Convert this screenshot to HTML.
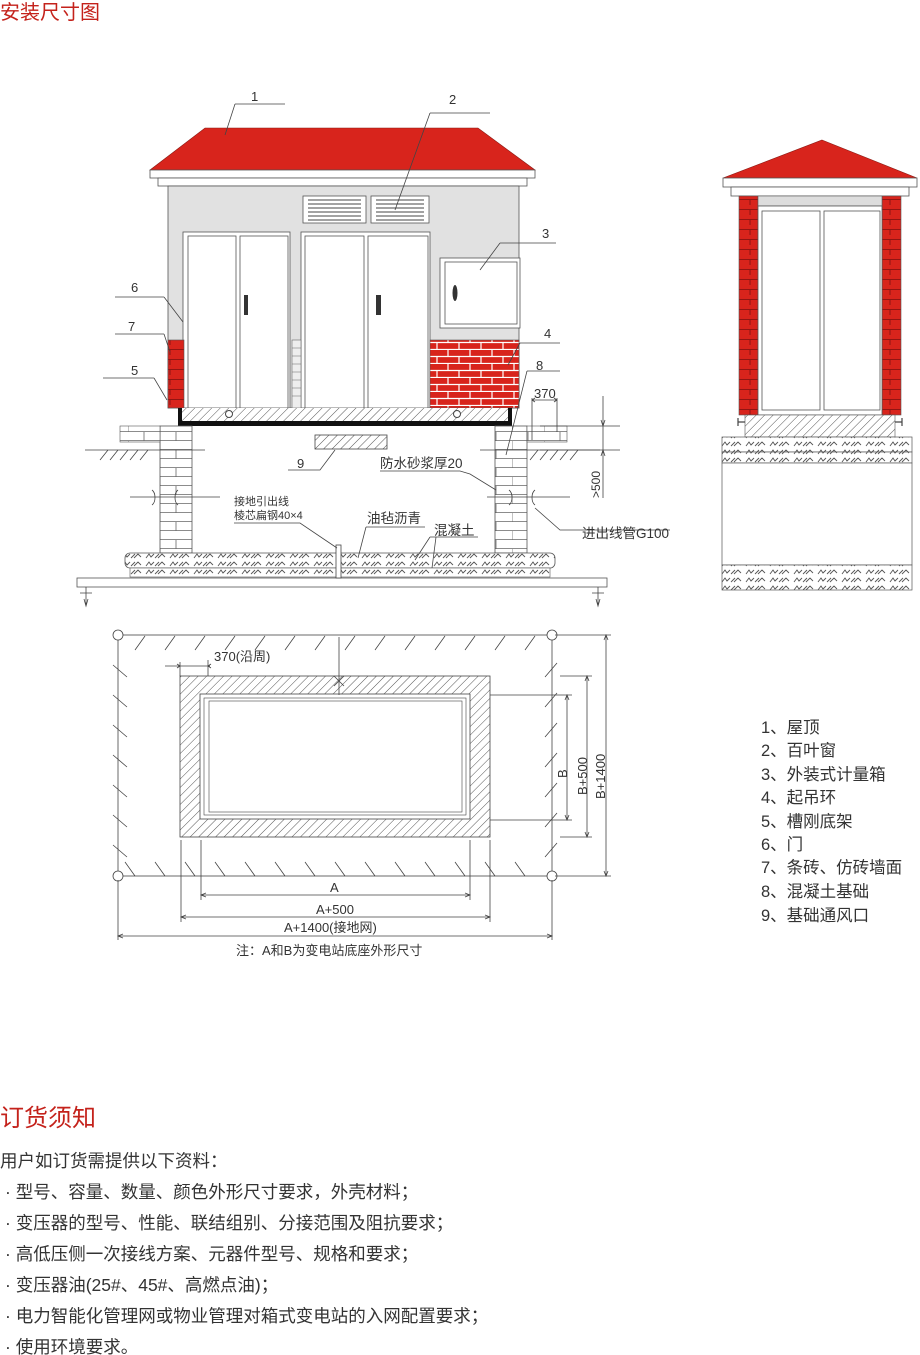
<!DOCTYPE html>
<html><head><meta charset="utf-8"><style>
html,body{margin:0;padding:0;background:#fff;width:920px;height:1355px;overflow:hidden}
svg{display:block}
text{font-family:"Liberation Sans","Noto Sans CJK SC",sans-serif;fill:#333}
</style></head><body>
<svg width="920" height="1355" viewBox="0 0 920 1355" xmlns="http://www.w3.org/2000/svg">
<defs>
<pattern id="hatch" width="6" height="6" patternUnits="userSpaceOnUse" patternTransform="rotate(45)">
<rect width="6" height="6" fill="#fff"/><line x1="0" y1="0" x2="0" y2="6" stroke="#555" stroke-width="1"/></pattern>
<pattern id="brick" width="22" height="14" patternUnits="userSpaceOnUse">
<rect width="22" height="14" fill="#d8241c"/>
<path d="M0 6.5H22M0 13.5H22M8 0V7M19 7V14" stroke="#fff" stroke-width="1.2"/></pattern>
<pattern id="brickS" width="20" height="10" patternUnits="userSpaceOnUse">
<rect width="20" height="10" fill="#d8241c"/>
<path d="M0 9.5H20M10 0V5" stroke="#7a1010" stroke-width="0.8"/></pattern>
<pattern id="wbrick" width="32" height="18" patternUnits="userSpaceOnUse">
<rect width="32" height="18" fill="#fff"/>
<path d="M0 8.5H32M0 17.5H32M16 0V9M0 9V18" stroke="#666" stroke-width="0.8"/></pattern>
<pattern id="conc" width="24" height="8" patternUnits="userSpaceOnUse">
<rect width="24" height="8" fill="#fff"/>
<path d="M2 6l3-4 2 3 3-3M11 6l4-4M14 6l4-4 3 3" stroke="#555" stroke-width="0.9" fill="none"/></pattern>
</defs>

<text x="0" y="19" font-size="20" style="fill:#c4221b">安装尺寸图</text>

<!-- ===== Main elevation ===== -->
<polygon points="205,128 478,128 535,170 150,170" fill="#d8241c" stroke="#8a1a14" stroke-width="0.6"/>
<rect x="150" y="170" width="385" height="8" fill="#fff" stroke="#555" stroke-width="0.8"/>
<rect x="158" y="178" width="369" height="8" fill="#fff" stroke="#555" stroke-width="0.8"/>
<rect x="168" y="186" width="351" height="222" fill="#e1e1e1" stroke="#555" stroke-width="0.8"/>
<g stroke="#555" stroke-width="0.8" fill="#fff">
<rect x="303" y="196" width="63" height="27"/><rect x="371" y="196" width="58" height="27"/>
</g>
<g stroke="#444" stroke-width="1">
<path d="M308 200H361M308 204H361M308 208H361M308 212H361M308 216H361M308 220H361"/>
<path d="M376 200H424M376 204H424M376 208H424M376 212H424M376 216H424M376 220H424"/>
</g>
<g stroke="#555" stroke-width="0.8" fill="#fff">
<rect x="183" y="232" width="107" height="176"/>
<rect x="188" y="236" width="48" height="172"/><rect x="240" y="236" width="48" height="172"/>
<rect x="301" y="232" width="129" height="176"/>
<rect x="305" y="236" width="59" height="172"/><rect x="368" y="236" width="60" height="172"/>
<rect x="440" y="258" width="80" height="70"/><rect x="445" y="262" width="72" height="62"/>
</g>
<rect x="244" y="295" width="4" height="20" fill="#333"/>
<rect x="376" y="295" width="5" height="20" fill="#333"/>
<ellipse cx="455" cy="293" rx="2.5" ry="8" fill="#333"/>
<rect x="168" y="340" width="16" height="68" fill="url(#brickS)" stroke="#555" stroke-width="0.6"/>
<rect x="430" y="340" width="89" height="68" fill="url(#brick)" stroke="#555" stroke-width="0.6"/>
<rect x="292" y="340" width="9" height="68" fill="#eee" stroke="#666" stroke-width="0.6"/>
<path d="M292 348H301M292 356H301M292 364H301M292 372H301M292 380H301M292 388H301M292 396H301" stroke="#666" stroke-width="0.6"/>
<rect x="178" y="408" width="334" height="18" fill="#111"/>
<rect x="182" y="408" width="326" height="13" fill="url(#hatch)"/>
<circle cx="229" cy="414" r="3.5" fill="#fff" stroke="#444"/>
<circle cx="457" cy="414" r="3.5" fill="#fff" stroke="#444"/>
<rect x="160" y="426" width="32" height="127" fill="url(#wbrick)" stroke="#555" stroke-width="0.8"/>
<rect x="495" y="426" width="32" height="127" fill="url(#wbrick)" stroke="#555" stroke-width="0.8"/>
<rect x="120" y="426" width="40" height="16" fill="url(#wbrick)" stroke="#555" stroke-width="0.6"/>
<rect x="527" y="426" width="40" height="16" fill="url(#wbrick)" stroke="#555" stroke-width="0.6"/>
<g stroke="#444" stroke-width="0.8" fill="none">
<path d="M85 450H205M480 450H600"/>
<path d="M100 460l8-10M110 460l8-10M120 460l8-10M130 460l8-10M140 460l8-10M530 460l8-10M540 460l8-10M550 460l8-10M560 460l8-10M570 460l8-10"/>
<path d="M130 497H220M487 497H570"/>
<path d="M152 490c4 3 4 12 0 15M178 490c-4 3-4 12 0 15M509 490c4 3 4 12 0 15M535 490c-4 3-4 12 0 15"/>
</g>
<rect x="315" y="435" width="72" height="14" fill="url(#hatch)" stroke="#444" stroke-width="0.8"/>
<rect x="125" y="553" width="430" height="15" rx="5" fill="url(#conc)" stroke="#555" stroke-width="0.8"/>
<rect x="130" y="568" width="420" height="9" fill="url(#conc)" stroke="#555" stroke-width="0.6"/>
<rect x="77" y="578" width="530" height="9" fill="#fff" stroke="#555" stroke-width="0.8"/>
<rect x="336" y="545" width="5" height="33" fill="#fff" stroke="#444" stroke-width="0.8"/>
<g stroke="#444" stroke-width="0.8" fill="none">
<path d="M80 593H92M86 587V606M84 599l2 7 2-7M592 593H604M598 587V606M596 599l2 7 2-7"/>
<path d="M532 398V440M557 398V432M532 400H557M535 398l-3 2 3 2M554 398l3 2-3 2"/>
<path d="M540 426H620M540 450H620M603 396V498M601 420l2 6 2-6M601 456l2-6 2 6"/>
<path d="M235 104H285M235 104L225 135"/>
<path d="M430 113H490M430 113L395 210"/>
<path d="M500 243H556M500 243L480 270"/>
<path d="M115 297H164M164 297L183 322"/>
<path d="M115 334H164M164 334L170 352"/>
<path d="M103 378H154M154 378L167 400"/>
<path d="M520 343H560M520 343L508 365"/>
<path d="M527 371H560M527 371L506 455"/>
<path d="M288 470H320L335 450"/>
<path d="M380 471H460L470 474L496 490"/>
<path d="M535 508L560 530H670"/>
<path d="M234 523H300L337 548"/>
<path d="M366 527H425M366 527L358 558"/>
<path d="M430 537H478M430 537L415 560M436 537L432 568"/>
</g>
<g font-size="13">
<text x="251" y="101">1</text><text x="449" y="104">2</text><text x="542" y="238">3</text>
<text x="131" y="292">6</text><text x="128" y="331">7</text><text x="544" y="338">4</text>
<text x="131" y="375">5</text><text x="536" y="370">8</text><text x="297" y="468">9</text>
<text x="534" y="398">370</text>
<text x="380" y="468" font-size="13.5">防水砂浆厚20</text>
<text x="234" y="505" font-size="11">接地引出线</text>
<text x="234" y="519" font-size="11">棱芯扁钢40×4</text>
<text x="367" y="523" font-size="13.5">油毡沥青</text>
<text x="434" y="535" font-size="13.5">混凝土</text>
<text x="582" y="538" font-size="13.5">进出线管G100</text>
<text transform="translate(600,498) rotate(-90)" font-size="12">&gt;500</text>
</g>

<!-- ===== Side elevation ===== -->
<polygon points="822,140 917,178 723,178" fill="#d8241c" stroke="#8a1a14" stroke-width="0.6"/>
<rect x="723" y="178" width="194" height="9" fill="#fff" stroke="#555" stroke-width="0.8"/>
<rect x="731" y="187" width="178" height="9" fill="#fff" stroke="#555" stroke-width="0.8"/>
<rect x="739" y="196" width="19" height="219" fill="url(#brickS)" stroke="#555" stroke-width="0.6"/>
<rect x="882" y="196" width="19" height="219" fill="url(#brickS)" stroke="#555" stroke-width="0.6"/>
<rect x="758" y="196" width="124" height="10" fill="#ddd" stroke="#555" stroke-width="0.6"/>
<g stroke="#555" stroke-width="0.8" fill="#fff">
<rect x="758" y="206" width="124" height="209"/>
<rect x="762" y="211" width="58" height="199"/><rect x="824" y="211" width="56" height="199"/>
</g>
<rect x="745" y="415" width="150" height="22" fill="url(#hatch)" stroke="#555" stroke-width="0.6"/>
<path d="M738 418v8M738 422h7M902 418v8M902 422h-7" stroke="#444" stroke-width="1.2"/>
<rect x="722" y="437" width="190" height="15" fill="url(#conc)" stroke="#555" stroke-width="0.7"/>
<rect x="722" y="452" width="190" height="11" fill="url(#conc)" stroke="#555" stroke-width="0.7"/>
<rect x="722" y="463" width="190" height="102" fill="#fff" stroke="#555" stroke-width="0.7"/>
<rect x="722" y="565" width="190" height="25" fill="url(#conc)" stroke="#555" stroke-width="0.7"/>

<!-- ===== Plan ===== -->
<g stroke="#444" stroke-width="0.8" fill="none">
<rect x="118" y="635" width="434" height="241"/>
<circle cx="118" cy="635" r="5" fill="#fff"/><circle cx="552" cy="635" r="5" fill="#fff"/>
<circle cx="118" cy="876" r="5" fill="#fff"/><circle cx="552" cy="876" r="5" fill="#fff"/>
<path d="M135 650l10-14M165 650l10-14M195 650l10-14M225 650l10-14M255 650l10-14M285 650l10-14M315 650l10-14M345 650l10-14M375 650l10-14M405 650l10-14M435 650l10-14M465 650l10-14M495 650l10-14M525 650l10-14"/>
<path d="M135 876l-10-14M165 876l-10-14M195 876l-10-14M225 876l-10-14M255 876l-10-14M285 876l-10-14M315 876l-10-14M345 876l-10-14M375 876l-10-14M405 876l-10-14M435 876l-10-14M465 876l-10-14M495 876l-10-14M525 876l-10-14"/>
<path d="M113 665l14 12M113 695l14 12M113 725l14 12M113 755l14 12M113 785l14 12M113 815l14 12M113 845l14 12"/>
<path d="M545 677l12-14M545 707l12-14M545 737l12-14M545 767l12-14M545 797l12-14M545 827l12-14M545 857l12-14"/>
</g>
<rect x="180" y="676" width="310" height="161" fill="url(#hatch)" stroke="#444" stroke-width="0.8"/>
<rect x="200" y="694" width="270" height="125" fill="#fff" stroke="#444" stroke-width="0.8"/>
<rect x="204" y="698" width="262" height="117" fill="none" stroke="#444" stroke-width="0.6"/>
<rect x="209" y="701" width="253" height="111" fill="none" stroke="#444" stroke-width="0.6"/>
<g stroke="#444" stroke-width="0.8" fill="none">
<path d="M339 637V695M334 676l10 10M344 676l-10 10"/>
<path d="M180 662V676M208 660V676M165 666H210M177 664l3 2-3 2M211 664l-3 2 3 2"/>
<path d="M201 840V900M470 840V900M201 895H470M206 893l-5 2 5 2M465 893l5 2-5 2"/>
<path d="M181 840V922M490 840V922M181 917H490M186 915l-5 2 5 2M485 915l5 2-5 2"/>
<path d="M118 880V940M552 880V940M118 936H552M123 934l-5 2 5 2M547 934l5 2-5 2"/>
<path d="M490 695H572M490 820H572M567 695V820M565 700l2-5 2 5M565 815l2 5 2-5"/>
<path d="M560 676H592M560 837H592M587 676V837M585 681l2-5 2 5M585 832l2 5 2-5"/>
<path d="M555 635H611M555 876H611M606 635V876M604 640l2-5 2 5M604 871l2 5 2-5"/>
</g>
<g font-size="13">
<text x="214" y="661">370(沿周)</text>
<text x="330" y="892">A</text>
<text x="316" y="914">A+500</text>
<text x="284" y="932">A+1400(接地网)</text>
<text transform="translate(567,778) rotate(-90)">B</text>
<text transform="translate(587,795) rotate(-90)">B+500</text>
<text transform="translate(605,799) rotate(-90)">B+1400</text>
<text x="236" y="955">注：A和B为变电站底座外形尺寸</text>
</g>

<g font-size="16.5">
<text x="761" y="733">1、屋顶</text>
<text x="761" y="756">2、百叶窗</text>
<text x="761" y="780">3、外装式计量箱</text>
<text x="761" y="803">4、起吊环</text>
<text x="761" y="827">5、槽刚底架</text>
<text x="761" y="850">6、门</text>
<text x="761" y="873">7、条砖、仿砖墙面</text>
<text x="761" y="897">8、混凝土基础</text>
<text x="761" y="921">9、基础通风口</text>
</g>

<text x="0" y="1126" font-size="24" style="fill:#c4221b">订货须知</text>
<g font-size="17.5">
<text x="0" y="1167">用户如订货需提供以下资料：</text>
<text x="5" y="1198">· 型号、容量、数量、颜色外形尺寸要求，外壳材料；</text>
<text x="5" y="1229">· 变压器的型号、性能、联结组别、分接范围及阻抗要求；</text>
<text x="5" y="1260">· 高低压侧一次接线方案、元器件型号、规格和要求；</text>
<text x="5" y="1291">· 变压器油(25#、45#、高燃点油)；</text>
<text x="5" y="1322">· 电力智能化管理网或物业管理对箱式变电站的入网配置要求；</text>
<text x="5" y="1353">· 使用环境要求。</text>
</g>
</svg>
</body></html>
